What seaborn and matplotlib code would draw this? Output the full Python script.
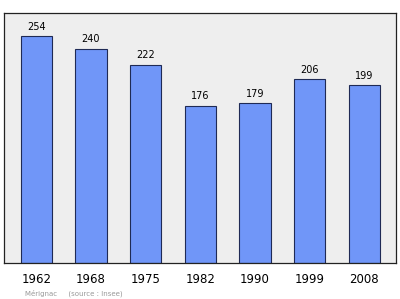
import matplotlib
matplotlib.use("Agg")
import matplotlib.pyplot as plt
import seaborn as sns
import pandas as pd

years = ["1962", "1968", "1975", "1982", "1990", "1999", "2008"]
values = [254, 240, 222, 176, 179, 206, 199]

sns.set_theme(style="white")
plt.rcParams['font.family'] = ['DejaVu Sans']

df = pd.DataFrame({"year": years, "value": values})

fig = plt.figure(figsize=(4.0, 2.99), dpi=100)
ax = fig.add_axes([0.01, 0.1204, 0.98, 0.836])
ax.set_facecolor("#eeeeee")

sns.barplot(data=df, x="year", y="value", color="#7096f8", saturation=1,
            width=0.57, edgecolor="#1f2a55", linewidth=0.8, ax=ax)

for i, v in enumerate(values):
    ax.text(i, v + 5, str(v), ha="center", va="bottom", fontsize=7, color="black")

ax.set_ylim(0, 280)
ax.set_xlim(-0.59, 6.58)
ax.set_yticks([])
ax.set_xlabel("")
ax.set_ylabel("")
ax.tick_params(axis="x", length=0, labelsize=8.5, pad=7, colors="black")
for s in ax.spines.values():
    s.set_visible(True)
    s.set_color("#222222")
    s.set_linewidth(0.9)

fig.text(0.0625, 0.008, "Mérignac     (source : Insee)", fontsize=5, color="#999999",
         ha="left", va="bottom")

fig.savefig("out.png", dpi=100)
